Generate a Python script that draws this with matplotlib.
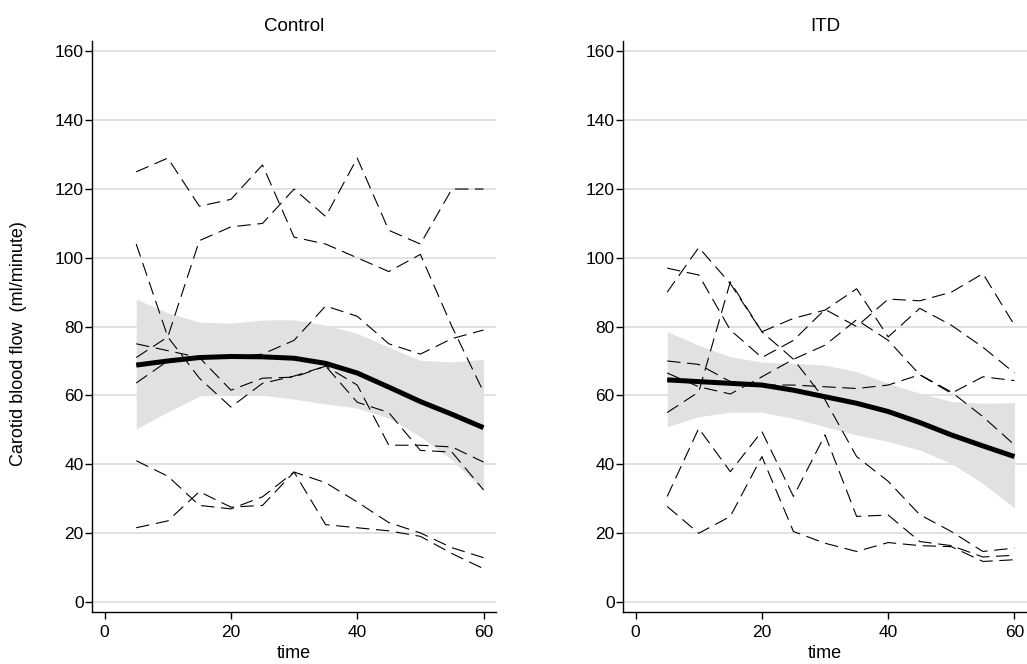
import matplotlib
matplotlib.use("Agg")
import matplotlib.pyplot as plt

# ---- data ----
time = [5, 10, 15, 20, 25, 30, 35, 40, 45, 50, 55, 60]

control_subjects = [
    [125, 129, 115, 117, 127, 106, 104, 100, 96, 101, 80, 61],
    [71, 77, 105, 109, 110, 120, 112, 129, 108, 104, 120, 120],
    [104, 77, 65, 56.6, 63.5, 65.6, 68.5, 58, 55, 44, 43.5, 32.5],
    [75, 73, 71, 61.5, 65, 65.3, 68.5, 63, 45.5, 45.5, 45, 40.6],
    [63.6, 70, 71, 71, 72, 76, 86, 83, 75, 72, 76.5, 79],
    [41, 36.5, 28, 27, 30.5, 37.7, 34.6, 29, 23, 20, 15.7, 12.8],
    [21.5, 23.5, 32, 27.5, 28, 37.7, 22.4, 21.5, 20.6, 19, 14, 9.6],
]
control_fit = [68.8, 70, 71, 71.3, 71.2, 70.8, 69.3, 66.5, 62.4, 58.2, 54.5, 50.6]
control_hi = [88, 84, 81.3, 81, 81.9, 82, 80.4, 78, 74, 70.2, 69.7, 70.5]
control_lo = [50.2, 55.2, 59.8, 60.4, 60, 58.9, 57.5, 56.3, 53.4, 48, 41.2, 32.5]

itd_subjects = [
    [97, 95, 79, 71, 76, 85, 80, 88, 87.5, 90, 95.4, 80.4],
    [90, 103, 92.5, 78.5, 82.4, 84.8, 91, 77, 85.3, 80.4, 74, 66.5],
    [55, 61, 93, 78.5, 70.5, 58.7, 42.2, 35, 25.3, 20.4, 14.6, 15.6],
    [70, 69, 64, 63, 63, 62.5, 62, 63, 66, 60.6, 65.4, 64.3],
    [66.5, 62.5, 60.4, 65.4, 70.5, 74.6, 82, 76, 66, 61, 53.8, 45.6],
    [30.6, 50.4, 37.8, 49.5, 30.6, 48.5, 24.8, 25.2, 17.5, 16.3, 13, 13.5],
    [27.7, 19.9, 24.8, 42.2, 20.4, 17, 14.6, 17.2, 16.3, 16, 11.7, 12.2],
]
itd_fit = [64.5, 64, 63.5, 63, 61.5, 59.6, 57.7, 55.3, 52.1, 48.5, 45.3, 42.2]
itd_hi = [78.5, 74.6, 71.2, 69.7, 69.3, 68.8, 66.9, 63.5, 60.6, 58.2, 57.7, 57.9]
itd_lo = [50.9, 53.8, 55.1, 55.1, 53.3, 50.9, 48.5, 46.6, 44.1, 40.2, 34.4, 27.2]

panels = [
    ("Control", control_subjects, control_fit, control_hi, control_lo),
    ("ITD", itd_subjects, itd_fit, itd_hi, itd_lo),
]

x_ticks = [0, 20, 40, 60]
y_ticks = [0, 20, 40, 60, 80, 100, 120, 140, 160]

plt.rcParams["font.family"] = ["Liberation Sans", "DejaVu Sans"]

fig = plt.figure(figsize=(10.27, 6.64), dpi=100)
axes_pos = [
    [0.0896, 0.0783, 0.3935, 0.8597],
    [0.6066, 0.0783, 0.3935, 0.8597],
]

for i, (title, subjects, fit, hi, lo) in enumerate(panels):
    ax = fig.add_axes(axes_pos[i])
    ax.fill_between(time, lo, hi, color="#e1e1e1", lw=0, zorder=1)
    for s in subjects:
        ax.plot(time, s, color="black", lw=0.8, ls=(0, (12, 6)), zorder=3)
    ax.plot(time, fit, color="black", lw=3.6, solid_capstyle="butt", zorder=4)

    ax.set_xlim(-2, 62)
    ax.set_ylim(-3, 163)
    ax.set_xticks(x_ticks)
    ax.set_yticks(y_ticks)
    ax.yaxis.grid(True, color="#dcdcdc", lw=1.2)
    ax.set_axisbelow(True)
    for side in ("top", "right"):
        ax.spines[side].set_visible(False)
    for side in ("left", "bottom"):
        ax.spines[side].set_linewidth(1.0)
    ax.tick_params(labelsize=12.5, length=5, width=1.0, direction="out")
    ax.tick_params(axis="x", pad=4)
    ax.tick_params(axis="y", pad=1)
    ax.set_title(title, fontsize=13.5, pad=7)
    ax.set_xlabel("time", fontsize=13, labelpad=4)
    if i == 0:
        ax.set_ylabel("Carotid blood flow  (ml/minute)", fontsize=13)
        ax.yaxis.set_label_coords(-0.16, 0.47)

fig.savefig("out.png", dpi=100)
